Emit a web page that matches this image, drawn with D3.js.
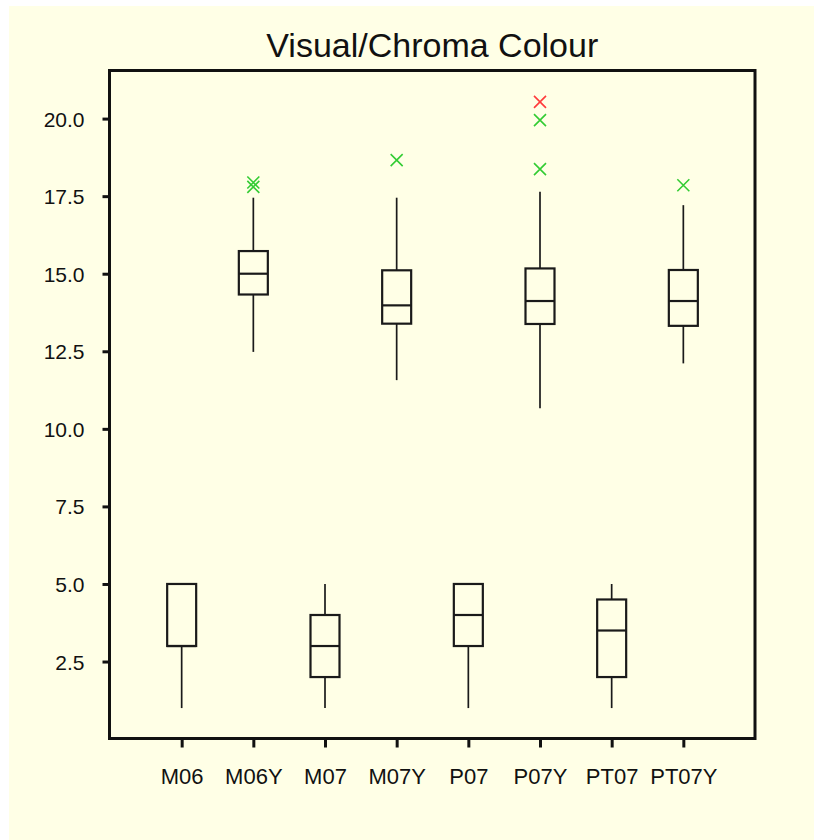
<!DOCTYPE html>
<html>
<head>
<meta charset="utf-8">
<script src="https://cdn.jsdelivr.net/npm/d3@7"></script>
<style>
  html, body { margin: 0; padding: 0; background: #ffffff; }
  svg { display: block; }
  text { font-family: "Liberation Sans", Arial, Helvetica, sans-serif; fill: #111; }
</style>
</head>
<body>
<svg id="chart" width="814" height="840"></svg>
<script>
// Chroma colour by sample group: five-number box summaries plus outliers
const categories  = ["M06", "M06Y", "M07", "M07Y", "P07", "P07Y", "PT07", "PT07Y"];
const whiskerLow  = [1.0, 12.48, 1.0, 11.57, 1.0, 10.66, 1.0, 12.11];
const quartile1   = [3.0, 14.33, 2.0, 13.39, 3.0, 13.38, 2.0, 13.32];
const medians     = [3.0, 15.00, 3.0, 13.98, 4.0, 14.12, 3.5, 14.12];
const quartile3   = [5.0, 15.73, 4.0, 15.11, 5.0, 15.17, 4.5, 15.12];
const whiskerHigh = [5.0, 17.45, 5.0, 17.45, 5.0, 17.64, 5.0, 17.21];

// outliers: group, value, and whether it lies beyond the outer fence
const outlierGroup = ["M06Y", "M06Y", "M07Y", "P07Y", "P07Y", "P07Y", "PT07Y"];
const outlierValue = [17.94, 17.80, 18.66, 20.54, 19.95, 18.37, 17.85];
const outlierFar   = [false, false, false, true, false, false, false];

const yTicks = [2.5, 5.0, 7.5, 10.0, 12.5, 15.0, 17.5, 20.0];

const svg = d3.select("#chart");

const frame = { left: 109.5, right: 755, top: 70.5, bottom: 738.5 };

// panel background
svg.append("rect")
  .attr("x", 9).attr("y", 6)
  .attr("width", 805).attr("height", 834)
  .attr("fill", "#ffffe6");

const x = d3.scaleLinear().domain([-1, 8]).range([110, 755]);
const y = d3.scaleLinear().domain([0, 21.55]).range([739.1, frame.top]);

// title
svg.append("text")
  .attr("x", (frame.left + frame.right) / 2)
  .attr("y", 57)
  .attr("text-anchor", "middle")
  .style("font-size", "34px")
  .text("Visual/Chroma Colour");

// y axis
const yAxis = svg.append("g")
  .attr("transform", `translate(${frame.left},0)`)
  .call(d3.axisLeft(y).tickValues(yTicks).tickFormat(d3.format(".1f")).tickSize(7).tickSizeOuter(0));
yAxis.select(".domain").remove();
yAxis.selectAll(".tick line").attr("stroke", "#111").attr("stroke-width", 3);
yAxis.selectAll(".tick text")
  .attr("x", -25).attr("dy", "0.36em")
  .style("font-size", "21px").style("font-family", null).attr("fill", "#111");

// x axis
const xAxis = svg.append("g")
  .attr("transform", `translate(0,${frame.bottom})`)
  .call(d3.axisBottom(x).tickValues(d3.range(categories.length)).tickFormat(i => categories[i]).tickSize(9).tickSizeOuter(0));
xAxis.select(".domain").remove();
xAxis.selectAll(".tick line").attr("stroke", "#111").attr("stroke-width", 3);
xAxis.selectAll(".tick text")
  .attr("y", 45.5).attr("dy", null)
  .style("font-size", "22px").style("font-family", null).attr("fill", "#111");

// plot frame
svg.append("rect")
  .attr("x", frame.left).attr("y", frame.top)
  .attr("width", frame.right - frame.left).attr("height", frame.bottom - frame.top)
  .attr("fill", "none").attr("stroke", "#111").attr("stroke-width", 3);

// boxes
const boxHalf = 14.5;
const boxes = svg.append("g").attr("stroke", "#1a1a1a").attr("fill", "none");
categories.forEach((c, i) => {
  const cx = x(i);
  const g = boxes.append("g");
  // whiskers
  if (whiskerHigh[i] > quartile3[i]) {
    g.append("line").attr("x1", cx).attr("x2", cx)
      .attr("y1", y(quartile3[i])).attr("y2", y(whiskerHigh[i])).attr("stroke-width", 1.7);
  }
  if (whiskerLow[i] < quartile1[i]) {
    g.append("line").attr("x1", cx).attr("x2", cx)
      .attr("y1", y(quartile1[i])).attr("y2", y(whiskerLow[i])).attr("stroke-width", 1.7);
  }
  g.append("rect")
    .attr("x", cx - boxHalf).attr("y", y(quartile3[i]))
    .attr("width", boxHalf * 2).attr("height", y(quartile1[i]) - y(quartile3[i]))
    .attr("stroke-width", 2.2);
  g.append("line")
    .attr("x1", cx - boxHalf).attr("x2", cx + boxHalf)
    .attr("y1", y(medians[i])).attr("y2", y(medians[i]))
    .attr("stroke-width", 2.2);
});

// outlier crosses
const mk = 6;
const marks = svg.append("g").attr("stroke-width", 1.6).attr("fill", "none");
outlierGroup.forEach((c, k) => {
  const cx = x(categories.indexOf(c));
  const cy = y(outlierValue[k]);
  const col = outlierFar[k] ? "#ff3b3b" : "#33cc33";
  const p = d3.path();
  p.moveTo(cx - mk, cy - mk); p.lineTo(cx + mk, cy + mk);
  p.moveTo(cx - mk, cy + mk); p.lineTo(cx + mk, cy - mk);
  marks.append("path").attr("d", p.toString()).attr("stroke", col);
});
</script>
</body>
</html>
